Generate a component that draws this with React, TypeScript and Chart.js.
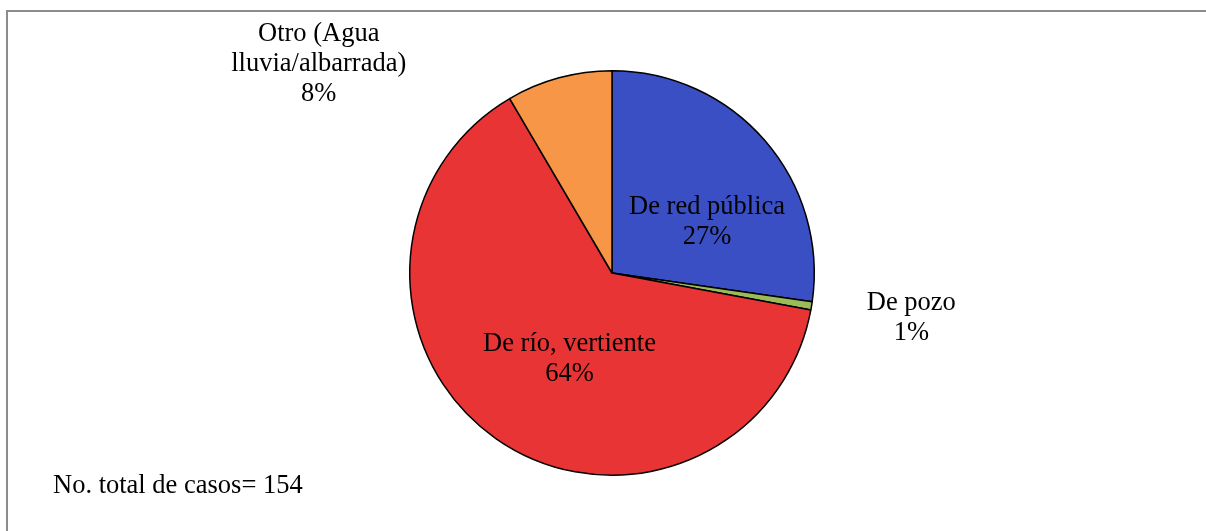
import React, { useEffect, useRef } from "react";
import { Chart, registerables } from "chart.js";

Chart.register(...registerables);

const categories: string[][] = [
  ["De red pública"],
  ["De pozo"],
  ["De río, vertiente"],
  ["Otro (Agua", "lluvia/albarrada)"],
];
const counts: number[] = [42, 1, 98, 13];
const sliceColors: string[] = ["#3A4FC3", "#9BBB59", "#E93435", "#F79646"];
const totalNote = "No. total de casos= 154";

// label block centres relative to pie centre, in units of radius
const labelOffsets: [number, number][] = [
  [0.47, -0.251],
  [1.48, 0.222],
  [-0.21, 0.425],
  [-1.45, -1.035],
];

const FONT = "26.5px 'Liberation Serif', 'Times New Roman', serif";

const labelPlugin = {
  id: "pieLabels",
  afterDatasetsDraw(chart: any) {
    const ctx = chart.ctx;
    const meta = chart.getDatasetMeta(0);
    const data = chart.data.datasets[0].data as number[];
    const total = data.reduce((a, b) => a + b, 0);
    ctx.save();
    ctx.font = FONT;
    ctx.fillStyle = "#000";
    ctx.textAlign = "center";
    ctx.textBaseline = "middle";
    meta.data.forEach((arc: any, i: number) => {
      const r = arc.outerRadius;
      const cx = arc.x + labelOffsets[i][0] * r;
      const cy = arc.y + labelOffsets[i][1] * r;
      const lines = [...categories[i], Math.round((data[i] / total) * 100) + "%"];
      const lh = 30;
      const y0 = cy - ((lines.length - 1) * lh) / 2;
      lines.forEach((t, k) => ctx.fillText(t, cx, y0 + k * lh));
    });
    ctx.textAlign = "left";
    ctx.fillText(totalNote, 53, chart.height - 45);
    ctx.restore();
  },
};

export default function App() {
  const ref = useRef<HTMLCanvasElement | null>(null);
  useEffect(() => {
    document.body.style.margin = "0";
    const chart = new Chart(ref.current!, {
      type: "pie",
      data: {
        labels: categories.map((c) => c.join(" ")),
        datasets: [
          {
            data: counts,
            backgroundColor: sliceColors,
            borderColor: "#000",
            borderWidth: 1.5,
          },
        ],
      },
      options: {
        animation: false,
        responsive: false,
        layout: { padding: { left: 409, right: 391, top: 70, bottom: 55 } },
        plugins: {
          legend: { display: false },
          tooltip: { enabled: false },
        },
      },
      plugins: [labelPlugin],
    });
    return () => chart.destroy();
  }, []);
  return (
    <div style={{ position: "fixed", left: 0, top: 0, width: 1206, height: 531, background: "#fff", overflow: "hidden" }}>
      <canvas ref={ref} width={1206} height={531} style={{ position: "absolute", left: 0, top: 0 }} />
      <div
        style={{
          position: "absolute",
          left: 6,
          top: 10,
          width: 1300,
          height: 600,
          borderLeft: "2px solid #8c8c8c",
          borderTop: "2px solid #8c8c8c",
          pointerEvents: "none",
        }}
      />
    </div>
  );
}
